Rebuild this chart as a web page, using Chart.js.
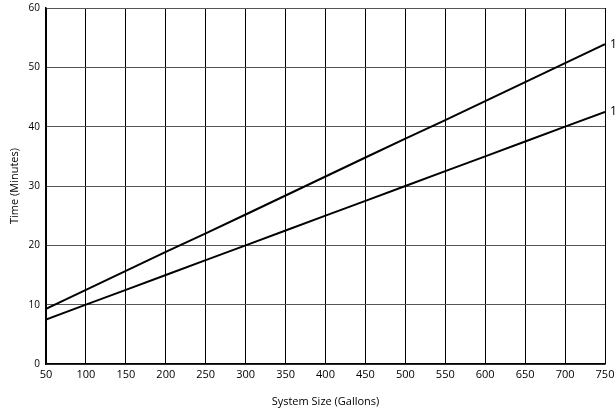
<!DOCTYPE html>
<html>
<head>
<meta charset="utf-8">
<script src="https://cdn.jsdelivr.net/npm/chart.js@4"></script>
<style>
  html, body { margin: 0; padding: 0; background: #fff; }
  #wrap { width: 616px; height: 411px; }
</style>
</head>
<body>
<div id="wrap"><canvas id="timeChart"></canvas></div>
<script>
const sizes = [50, 100, 150, 200, 250, 300, 350, 400, 450, 500, 550, 600, 650, 700, 750];
const upperTimes = [9.3, 12.5, 15.7, 18.9, 22.0, 25.2, 28.4, 31.6, 34.8, 38.0, 41.1, 44.3, 47.5, 50.7, 53.9];
const lowerTimes = [7.5, 10.0, 12.5, 15.0, 17.5, 20.0, 22.5, 25.0, 27.5, 30.0, 32.5, 35.0, 37.5, 40.0, 42.5];
const lineLabels = ["1", "1"];

const font = "'Open Sans', 'DejaVu Sans', sans-serif";

// label at the end of each line (cut off by the page edge, like the original)
const endLabels = {
    id: 'endLabels',
    afterDatasetsDraw(chart) {
        const ctx = chart.ctx;
        ctx.save();
        ctx.font = "12px " + font;
        ctx.fillStyle = "#000";
        ctx.textBaseline = "middle";
        chart.data.datasets.forEach((ds, i) => {
            const pts = chart.getDatasetMeta(i).data;
            const last = pts[pts.length - 1];
            ctx.fillText(lineLabels[i], last.x + 5, last.y);
        });
        ctx.restore();
    }
};

new Chart("timeChart", {
    type: "line",
    data: {
        datasets: [
            {
                data: sizes.map((s, i) => ({ x: s, y: upperTimes[i] })),
                borderColor: "#000",
                borderWidth: 2,
                pointRadius: 0,
                fill: false
            },
            {
                data: sizes.map((s, i) => ({ x: s, y: lowerTimes[i] })),
                borderColor: "#000",
                borderWidth: 2,
                pointRadius: 0,
                fill: false
            }
        ]
    },
    options: {
        responsive: true,
        maintainAspectRatio: false,
        animation: false,
        layout: { padding: { left: 0, right: 11, top: 8, bottom: 0 } },
        plugins: {
            legend: { display: false },
            tooltip: { enabled: false }
        },
        scales: {
            x: {
                type: "linear",
                min: 50,
                max: 750,
                ticks: { stepSize: 50, color: "#000", padding: 4, maxRotation: 0, font: { family: font, size: 11 } },
                grid: { color: "#000", lineWidth: 1, drawTicks: false },
                border: { color: "#000", width: 1.5 },
                title: { display: true, text: "System Size (Gallons)", color: "#000", font: { family: font, size: 11 }, padding: { top: 10, bottom: 3 } },
                afterFit(scale) { scale.height = 47; scale.paddingLeft = 0; scale.paddingRight = 0; }
            },
            y: {
                min: 0,
                max: 60,
                ticks: { stepSize: 10, color: "#000", padding: 6, font: { family: font, size: 10 } },
                grid: { color: "#555", lineWidth: 1, drawTicks: false },
                border: { color: "#000", width: 1.5 },
                title: { display: true, text: "Time (Minutes)", color: "#000", font: { family: font, size: 11 }, padding: { top: 8, bottom: 0 } },
                afterFit(scale) { scale.width = 46; scale.paddingTop = 0; scale.paddingBottom = 0; }
            }
        }
    },
    plugins: [endLabels]
});
</script>
</body>
</html>
